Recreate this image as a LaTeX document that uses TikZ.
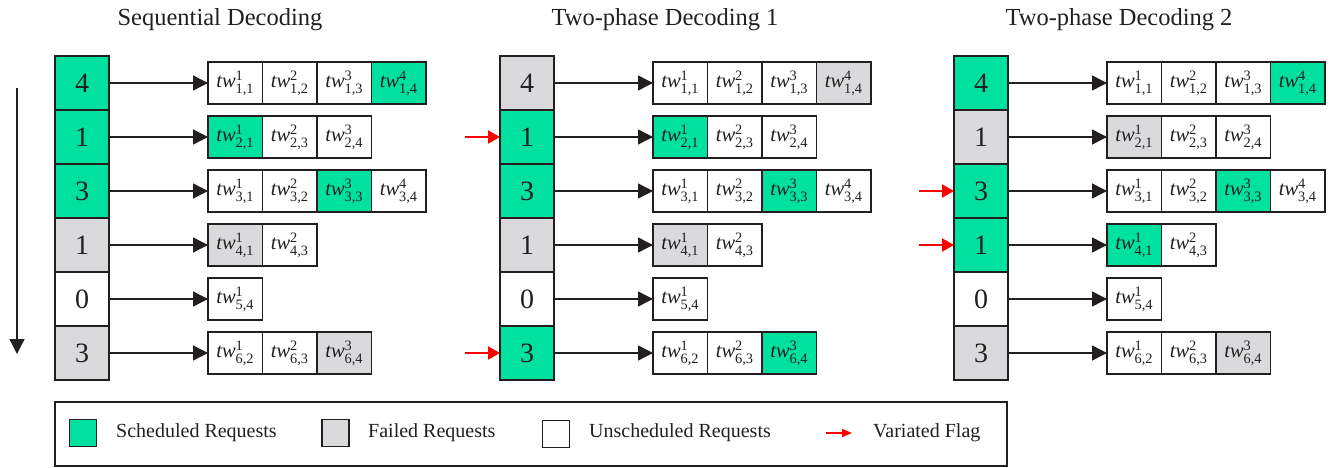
\documentclass[tikz,border=0pt]{standalone}
\usepackage{fontspec}
\usepackage{amsmath}
\setmainfont{Liberation Serif}
\usetikzlibrary{arrows.meta,positioning}
\definecolor{schedgreen}{RGB}{0,224,158}
\definecolor{failgrey}{RGB}{218,218,221}
\definecolor{inkgrey}{RGB}{35,31,32}
\newcommand{\tw}[2]{$\textit{tw}^{\text{#1}}_{\text{#2}}$}
% one decoding panel: name, x offset, rows r/value/fill/{j/fill,...}
\newcommand{\drawpanel}[3]{%
  \foreach \r/\v/\fc/\items in {#3}{
    \node[cell, fill=\fc] (#1c\r) at ({#2+82}, {29+54*\r}) {\v};
    \foreach \j/\bc [count=\k] in \items
      \node[twbox, fill=\bc] (#1b\r-\k) at ({#2+235.25+54.5*(\k-1)}, {29+54*\r}) {\tw{\k}{\r,\j}};
    \draw[flow] (#1c\r.east) -- (#1b\r-1.west);
  }}

\begin{document}
\begin{tikzpicture}[x=1pt, y=-1pt, inkgrey,
  cell/.style={draw=inkgrey, line width=1.8pt, outer sep=0pt, inner sep=0pt,
    minimum width=54pt, minimum height=54pt, font=\fontsize{28}{30}\selectfont},
  twbox/.style={draw=inkgrey, line width=1.8pt, outer sep=0pt, inner sep=0pt,
    minimum width=54.5pt, minimum height=42pt, font=\fontsize{20.5}{24}\selectfont},
  flow/.style={line width=1.4pt, -{Triangle[length=15pt,width=15pt]}},
  flag/.style={red, line width=2pt, -{Triangle[length=12pt,width=13pt]}},
  keyflag/.style={red, line width=1.4pt, -{Triangle[length=10pt,width=8pt]}},
  title/.style={anchor=base, font=\fontsize{24.5}{26}\selectfont},
  key/.style={draw=inkgrey, line width=1.6pt, minimum size=27pt, inner sep=0pt},
  keytext/.style={anchor=west, inner sep=0pt, font=\fontsize{20}{22}\selectfont}]
\useasboundingbox (0,0) rectangle (1335,468);

% titles
\node[title] (t1) at (220,26) {Sequential Decoding};
\node[title] (t2) at (665,26) {Two-phase Decoding 1};
\node[title] (t3) at (1119,26) {Two-phase Decoding 2};

% panels
\drawpanel{s}{0}{1/4/schedgreen/{1/white,2/white,3/white,4/schedgreen},
  2/1/schedgreen/{1/schedgreen,3/white,4/white},
  3/3/schedgreen/{1/white,2/white,3/schedgreen,4/white},
  4/1/failgrey/{1/failgrey,3/white},
  5/0/white/{4/white},
  6/3/failgrey/{2/white,3/white,4/failgrey}}
\drawpanel{a}{445}{1/4/failgrey/{1/white,2/white,3/white,4/failgrey},
  2/1/schedgreen/{1/schedgreen,3/white,4/white},
  3/3/schedgreen/{1/white,2/white,3/schedgreen,4/white},
  4/1/failgrey/{1/failgrey,3/white},
  5/0/white/{4/white},
  6/3/schedgreen/{2/white,3/white,4/schedgreen}}
\drawpanel{b}{899}{1/4/schedgreen/{1/white,2/white,3/white,4/schedgreen},
  2/1/failgrey/{1/failgrey,3/white,4/white},
  3/3/schedgreen/{1/white,2/white,3/schedgreen,4/white},
  4/1/schedgreen/{1/schedgreen,3/white},
  5/0/white/{4/white},
  6/3/failgrey/{2/white,3/white,4/failgrey}}

% decoding order
\coordinate (ordtop) at (17,88);
\coordinate (ordbot) at (17,354);
\draw[flow] (ordtop) -- (ordbot);

% variated flags
\foreach \p/\r in {a/2,a/6,b/3,b/4}{
  \coordinate (f\p\r) at ([xshift=-35pt]\p c\r.west);
  \draw[flag] (f\p\r) -- (\p c\r.west);
}

% legend
\node[draw=inkgrey, line width=1.4pt, minimum width=952pt, minimum height=64pt] (legend) at (531,434) {};
\node[key, fill=schedgreen] (k1) at (83,433) {};
\node[keytext] (l1) at (116,433) {Scheduled Requests};
\node[key, fill=failgrey] (k2) at (335.5,433) {};
\node[keytext] (l2) at (368,433) {Failed Requests};
\node[key, fill=white] (k3) at (556,434) {};
\node[keytext] (l3) at (589,433) {Unscheduled Requests};
\coordinate (k4a) at (826,433);
\coordinate (k4b) at (852,433);
\draw[keyflag] (k4a) -- (k4b);
\node[keytext] (l4) at (873,433) {Variated Flag};
\end{tikzpicture}
\end{document}
